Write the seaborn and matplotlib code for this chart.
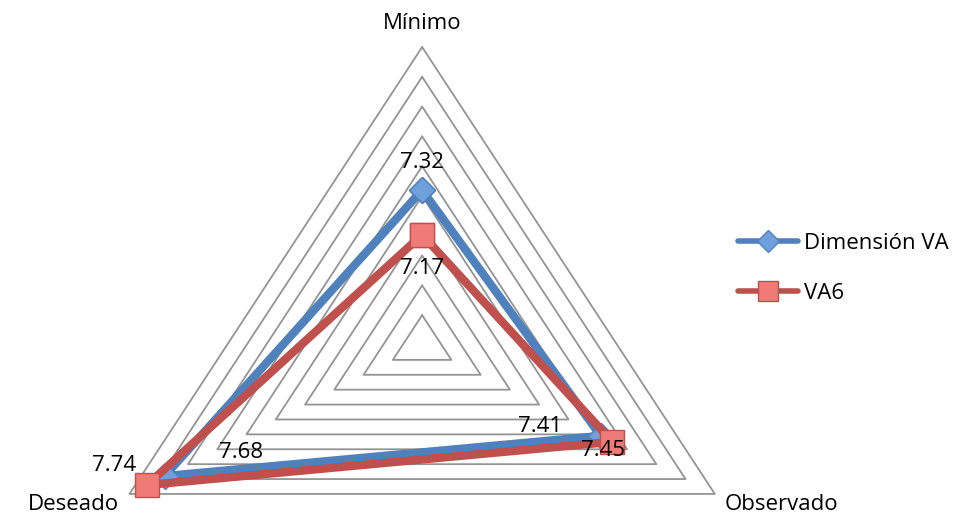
import numpy as np
import pandas as pd
import seaborn as sns
import matplotlib.pyplot as plt

# radar axes (clockwise from top) and series values
axes_names = ["Mínimo", "Observado", "Deseado"]
dimension_va = [7.32, 7.41, 7.68]
va6 = [7.17, 7.45, 7.74]
series_names = ["Dimensión VA", "VA6"]
scale_min, scale_max, scale_step = 6.8, 7.8, 0.1

angles = np.deg2rad([90, -30, 210])


def to_xy(values):
    r = (np.asarray(values) - scale_min) / (scale_max - scale_min)
    return r * np.cos(angles), r * np.sin(angles)


def make_plot(filename):
    sns.set_style("white")
    plt.rcParams["font.family"] = ["Open Sans", "DejaVu Sans"]
    plt.rcParams["text.color"] = "black"
    fig = plt.figure(figsize=(9.7, 5.16), dpi=100)
    ax = fig.add_axes([0, 0, 1, 1])
    # x is stretched relative to y, as in the original chart
    ax.set_xlim(-1.249, 1.621)
    ax.set_ylim(-0.574, 1.158)
    ax.axis("off")

    # triangular grid
    levels = np.arange(scale_min + scale_step, scale_max + scale_step / 2, scale_step)
    for lv in levels:
        gx, gy = to_xy([lv] * 3)
        ax.plot(np.append(gx, gx[0]), np.append(gy, gy[0]), color="#949494", lw=1.3, zorder=1)

    # axis titles
    tx, ty = to_xy([scale_max] * 3)
    fs = 16
    ax.text(tx[0], ty[0] + 0.045, axes_names[0], ha="center", va="bottom", fontsize=fs)
    ax.text(tx[1] + 0.03, ty[1] - 0.035, axes_names[1], ha="left", va="center", fontsize=fs)
    ax.text(tx[2] - 0.03, ty[2] - 0.035, axes_names[2], ha="right", va="center", fontsize=fs)

    styles = [
        dict(color="#4f81bd", marker="D", mfc="#6fa0dc", mec="#4f81bd", ms=13),
        dict(color="#c0504d", marker="s", mfc="#ef7b78", mec="#c0504d", ms=17),
    ]
    for name, vals, st in zip(series_names, [dimension_va, va6], styles):
        x, y = to_xy(vals)
        df = pd.DataFrame({"x": np.append(x, x[0]), "y": np.append(y, y[0])})
        sns.lineplot(data=df, x="x", y="y", sort=False, estimator=None, ax=ax, color=st["color"], lw=6,
                     marker=st["marker"], markerfacecolor=st["mfc"], markeredgecolor=st["mec"],
                     markeredgewidth=1, markersize=st["ms"], label=name, zorder=3)

    # data labels
    bx, by = to_xy(dimension_va)
    rx, ry = to_xy(va6)
    kw = dict(textcoords="offset points", fontsize=fs, zorder=5, ha="center", va="center")
    ax.annotate(f"{dimension_va[0]:.2f}", (bx[0], by[0]), xytext=(0, 20), **kw)
    ax.annotate(f"{dimension_va[1]:.2f}", (bx[1], by[1]), xytext=(-44, 6.5), **kw)
    ax.annotate(f"{dimension_va[2]:.2f}", (bx[2], by[2]), xytext=(55, 17), **kw)
    ax.annotate(f"{va6[0]:.2f}", (rx[0], ry[0]), xytext=(0, -24), **kw)
    ax.annotate(f"{va6[1]:.2f}", (rx[1], ry[1]), xytext=(-6.5, -6), **kw)
    ax.annotate(f"{va6[2]:.2f}", (rx[2], ry[2]), xytext=(-24, 14), **kw)

    leg = ax.legend(loc="center left", bbox_to_anchor=(0.74, 0.48), bbox_transform=fig.transFigure,
                    frameon=False, fontsize=fs, handlelength=2.7, handletextpad=0.3, labelspacing=1.3)
    for h, ms in zip(leg.legend_handles, [11, 14]):
        h.set_linewidth(4)
        h.set_markersize(ms)
    plt.savefig(filename, dpi=100)


make_plot("out.png")
